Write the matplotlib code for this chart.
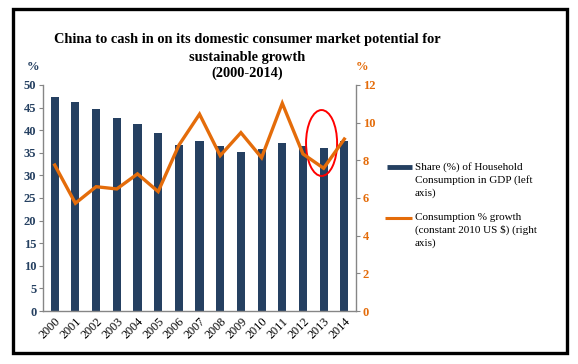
import matplotlib
matplotlib.use("Agg")
import matplotlib.pyplot as plt
from matplotlib.patches import Ellipse, Rectangle
from matplotlib.lines import Line2D

# Data
years = ['2000', '2001', '2002', '2003', '2004', '2005', '2006', '2007',
         '2008', '2009', '2010', '2011', '2012', '2013', '2014']
household_share = [47.3, 46.2, 44.7, 42.7, 41.4, 39.4, 36.7, 37.6,
                   36.5, 35.2, 35.8, 37.2, 36.5, 36.1, 37.5]
consumption_growth = [7.75, 5.72, 6.6, 6.48, 7.28, 6.34, 8.8, 10.45,
                      8.25, 9.47, 8.14, 11.03, 8.34, 7.58, 9.13]
left_ticks = [0, 5, 10, 15, 20, 25, 30, 35, 40, 45, 50]
right_ticks = [0, 2, 4, 6, 8, 10, 12]

navy = '#254061'
orange = '#E46C0A'
grey = '#868686'
serif = 'Liberation Serif'

fig = plt.figure(figsize=(5.78, 3.64), dpi=100)
ax = fig.add_axes([0.075, 0.1456, 0.5404, 0.6209])
ax2 = ax.twinx()

x = list(range(len(years)))
ax.bar(x, household_share, width=0.39, color=navy)
ax2.plot(x, consumption_growth, color=orange, lw=2.4, solid_joinstyle='miter')

# red circle around 2013
ax2.add_patch(Ellipse((12.9, 8.92), 1.5, 3.5, fill=False, ec='red', lw=1.4))

ax.set_xlim(-0.55, 14.55)
ax.set_ylim(0, 50)
ax2.set_ylim(0, 12)
ax.set_yticks(left_ticks)
ax2.set_yticks(right_ticks)
ax.set_xticks(x)
ax.set_xticklabels(years, rotation=45, ha='right', va='top', rotation_mode='anchor',
                   fontsize=8.8, family=serif, color='black')
ax.tick_params(axis='x', length=0, pad=3)
ax.tick_params(axis='y', length=3, color=grey, pad=2)
ax2.tick_params(axis='y', length=3, color=grey, pad=2)
for lab in ax.get_yticklabels():
    lab.set(family=serif, fontweight='bold', fontsize=9, color=navy)
for lab in ax2.get_yticklabels():
    lab.set(family=serif, fontweight='bold', fontsize=9, color=orange)

for a in (ax, ax2):
    a.spines['top'].set_visible(False)
    for s in ('left', 'right', 'bottom'):
        a.spines[s].set_color(grey)
        a.spines[s].set_linewidth(1)
ax.spines['right'].set_visible(False)
ax2.spines['left'].set_visible(False)
ax2.spines['bottom'].set_visible(False)

fig.text(33 / 578, 1 - 67 / 364, '%', family=serif, fontweight='bold', fontsize=9,
         color=navy, ha='center', va='center')
fig.text(362 / 578, 1 - 67 / 364, '%', family=serif, fontweight='bold', fontsize=9,
         color=orange, ha='center', va='center')

title_lines = ['China to cash in on its domestic consumer market potential for',
               'sustainable growth', '(2000-2014)']
for line, ypx in zip(title_lines, [39, 57, 73]):
    fig.text(247 / 578, 1 - ypx / 364, line, family=serif, fontweight='bold',
             fontsize=10.4, ha='center', va='center')

# legend drawn by hand
fig.add_artist(Line2D([387 / 578, 412 / 578], [1 - 167 / 364] * 2, color=navy, lw=3.5,
                      solid_capstyle='butt'))
fig.add_artist(Line2D([385 / 578, 412 / 578], [1 - 218 / 364] * 2, color=orange, lw=2.2,
                      solid_capstyle='butt'))
legend_1 = ['Share (%) of Household', 'Consumption in GDP (left', 'axis)']
legend_2 = ['Consumption % growth', '(constant 2010 US $) (right', 'axis)']
for lines, y0 in ((legend_1, 167), (legend_2, 217)):
    for i, line in enumerate(lines):
        fig.text(415 / 578, 1 - (y0 + 13 * i) / 364, line, family=serif, fontsize=8,
                 ha='left', va='center')

fig.add_artist(Rectangle((13 / 578, 1 - 353 / 364), 554 / 578, 344 / 364, fill=False,
                         ec='black', lw=2.4, transform=fig.transFigure))

fig.savefig('out.png', dpi=100)
